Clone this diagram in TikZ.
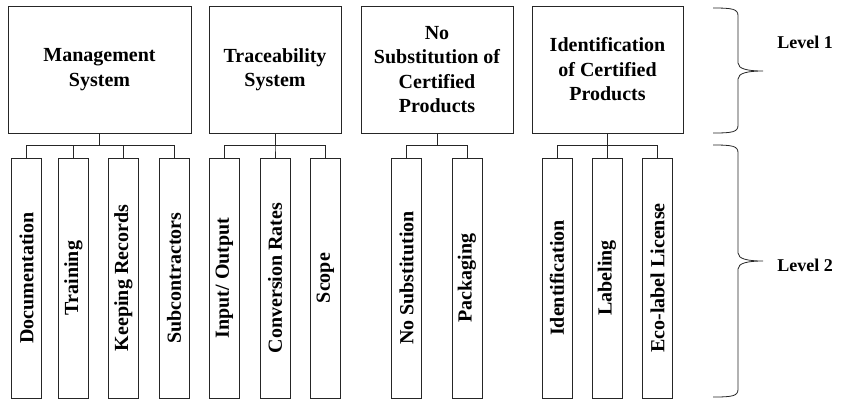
\documentclass[tikz,border=0pt]{standalone}
\usepackage{fontspec}
\setmainfont{Liberation Serif}
\usepackage{graphicx}
\usetikzlibrary{positioning}

\tikzset{
  topbox/.style={draw=black!85, line width=1pt, align=center, inner sep=2pt,
    font=\bfseries\fontsize{20}{24.5}\selectfont},
  subbox/.style={draw=black!85, line width=1pt, inner sep=0pt,
    minimum width=30pt, minimum height=240pt,
    font=\bfseries\fontsize{20}{24}\selectfont},
  link/.style={draw=black!85, line width=1pt},
  levellabel/.style={font=\bfseries\fontsize{18}{22}\selectfont},
}

% curly brace: top y, tip y, bottom y
\newcommand{\levelbrace}[3]{%
  \draw[link, line width=0.8pt] (713,#1) .. controls (733,#1) and (738,#1+1) .. (738,#1+8)
    -- (738,#2-8) .. controls (738,#2-2) and (748,#2) .. (763,#2)
    .. controls (748,#2) and (738,#2+2) .. (738,#2+8)
    -- (738,#3-8) .. controls (738,#3-1) and (733,#3) .. (713,#3);
}

\begin{document}
\begin{tikzpicture}[x=1pt,y=-1pt]
\useasboundingbox (0,0) rectangle (842,400);

%Level 1
\node[topbox, minimum width=183pt, minimum height=127pt] (mgmt) at (99.5,69.5) {Management\\System};
\node[topbox, minimum width=132pt, minimum height=127pt] (trace) at (275,69.5) {Traceability\\System};
\node[topbox, minimum width=152pt, minimum height=127pt] (nosub) at (437,69.5) {No\\Substitution of\\Certified\\Products};
\node[topbox, minimum width=151pt, minimum height=127pt] (ident) at (607.5,69.5) {Identification\\of Certified\\Products};

%Level 2
\node[subbox] (doc) at (26.5,278) {\rotatebox{90}{Documentation}};
\node[subbox] (train) at (73.5,278) {\rotatebox{90}{Training}};
\node[subbox] (records) at (123.5,278) {\rotatebox{90}{Keeping Records}};
\node[subbox] (subcon) at (174,278) {\rotatebox{90}{Subcontractors}};

\node[subbox] (inout) at (224.5,278) {\rotatebox{90}{Input/ Output}};
\node[subbox] (conv) at (275,278) {\rotatebox{90}{Conversion Rates}};
\node[subbox] (scope) at (325.5,278) {\rotatebox{90}{Scope}};

\node[subbox] (nosubst) at (406.5,278) {\rotatebox{90}{No Substitution}};
\node[subbox] (pack) at (467,278) {\rotatebox{90}{Packaging}};

\node[subbox] (identif) at (557,278) {\rotatebox{90}{Identification}};
\node[subbox] (label) at (607,278) {\rotatebox{90}{Labeling}};
\node[subbox] (eco) at (657.5,278) {\rotatebox{90}{Eco-label License}};

% tree links
\foreach \c in {doc,train,records,subcon}
\draw[link] (mgmt.south) -- ++(0,12) -| (\c.north);
\foreach \c in {inout,conv,scope}
\draw[link] (trace.south) -- ++(0,12) -| (\c.north);
\foreach \c in {nosubst,pack}
\draw[link] (nosub.south) -- ++(0,12) -| (\c.north);
\foreach \c in {identif,label,eco}
\draw[link] (ident.south) -- ++(0,12) -| (\c.north);

% braces
\levelbrace{8}{71}{133}
\levelbrace{145}{261}{397}
\node[levellabel] (lvl1) at (805,42) {Level 1};
\node[levellabel] (lvl2) at (805,265) {Level 2};

\end{tikzpicture}
\end{document}
